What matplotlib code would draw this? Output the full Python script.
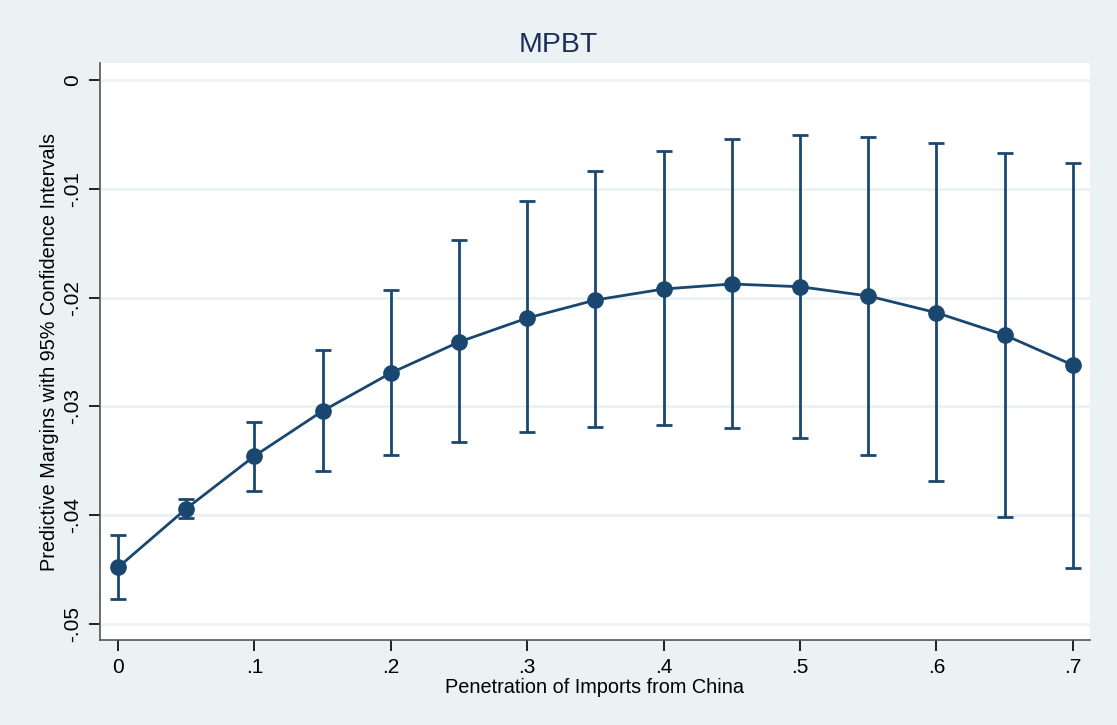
import matplotlib
matplotlib.use("Agg")
import matplotlib.pyplot as plt

plt.rcParams['font.family'] = ['Liberation Sans', 'DejaVu Sans']

# penetration levels and predictive margins with 95% CI
pen = [0, .05, .1, .15, .2, .25, .3, .35, .4, .45, .5, .55, .6, .65, .7]
margin = [-0.0448, -0.0394, -0.03456, -0.03042, -0.02693, -0.02408, -0.02188, -0.02022,
          -0.01921, -0.01875, -0.0190, -0.01985, -0.02139, -0.02344, -0.0262]
ci_hi = [-0.0418, -0.0385, -0.03143, -0.02482, -0.0193, -0.0147, -0.01112, -0.00836,
         -0.0065, -0.00545, -0.00503, -0.00524, -0.00576, -0.00668, -0.0076]
ci_lo = [-0.0477, -0.0403, -0.03778, -0.03594, -0.03447, -0.03327, -0.03235, -0.0319,
         -0.03171, -0.0320, -0.0329, -0.03447, -0.03686, -0.04017, -0.04485]

xticks = [0, .1, .2, .3, .4, .5, .6, .7]
xticklabels = ['0', '.1', '.2', '.3', '.4', '.5', '.6', '.7']
yticks = [0, -.01, -.02, -.03, -.04, -.05]
yticklabels = ['0', '-.01', '-.02', '-.03', '-.04', '-.05']

bg = '#EAF2F3'
navy = '#1A476F'

fig = plt.figure(figsize=(11.17, 7.25), dpi=100)
fig.patch.set_facecolor(bg)
ax = fig.add_axes([0.0895, 0.1172, 0.8863, 0.7959])
ax.set_facecolor('white')

err_lo = [m - l for m, l in zip(margin, ci_lo)]
err_hi = [h - m for m, h in zip(margin, ci_hi)]
ax.errorbar(pen, margin, yerr=[err_lo, err_hi], fmt='none', ecolor=navy,
            elinewidth=2, capsize=6, capthick=2, zorder=3)
ax.plot(pen, margin, '-o', color=navy, lw=2, ms=11, zorder=4)

ax.set_xlim(-0.0132, 0.7125)
ax.set_ylim(-0.05147, 0.00156)
ax.set_xticks(xticks)
ax.set_xticklabels(xticklabels, fontsize=15)
ax.set_yticks(yticks)
ax.set_yticklabels(yticklabels, fontsize=15, rotation=90, va='center')
ax.tick_params(length=8, width=1.2, pad=5)
ax.yaxis.grid(True, color=bg, lw=2)
ax.set_axisbelow(True)
for s in ['top', 'right']:
    ax.spines[s].set_visible(False)
for s in ['left', 'bottom']:
    ax.spines[s].set_color('#555555')
    ax.spines[s].set_linewidth(1.2)

# title is centred on the whole figure, as in the original
fig.text(0.5, 1 - 45 / 725, 'MPBT', fontsize=20.5, color='#1E2D5A',
         ha='center', va='center')
ax.set_xlabel('Penetration of Imports from China', fontsize=14.3, labelpad=1)
ax.set_ylabel('Predictive Margins with 95% Confidence Intervals', fontsize=14.3, labelpad=3)

fig.savefig('out.png', dpi=100, facecolor=bg)
